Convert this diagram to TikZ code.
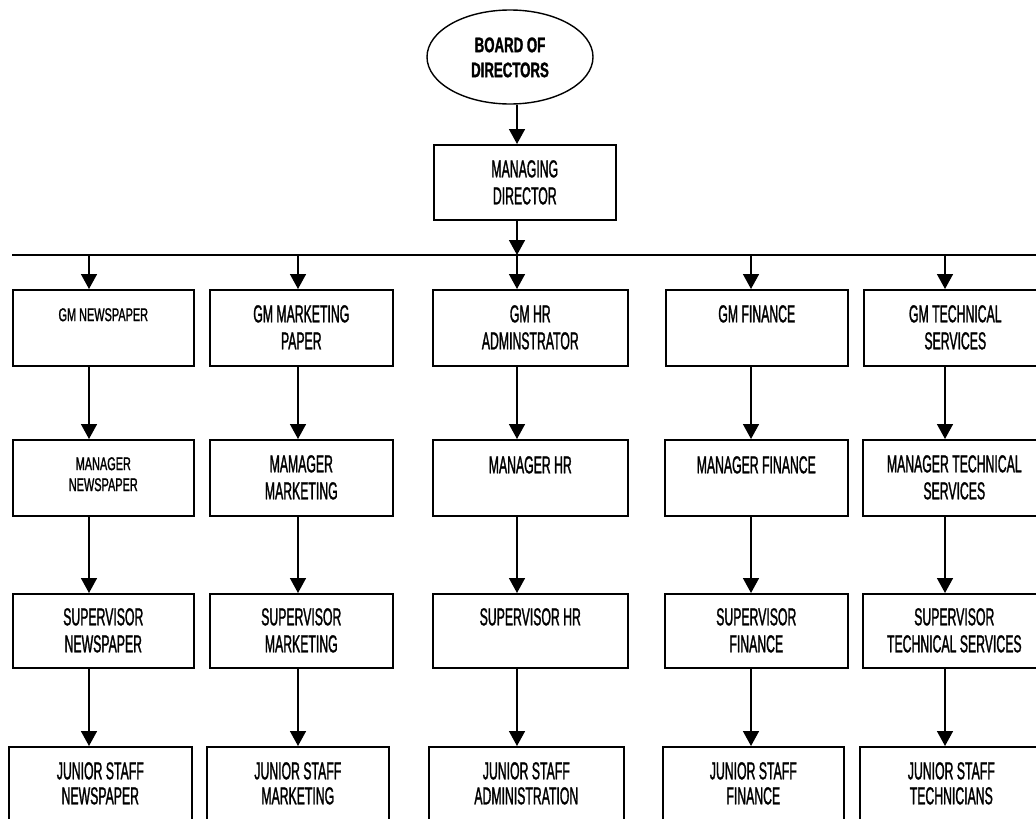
\documentclass[tikz,border=0pt]{standalone}
\usepackage{fontspec}
\setmainfont{Liberation Sans}
\newfontfamily\bigf[FakeStretch=0.5,FakeBold=1.2]{Liberation Sans}
\newfontfamily\smallf[FakeStretch=0.59,FakeBold=1.2]{Liberation Sans}
\newfontfamily\boldf[FakeStretch=0.63,FakeBold=1.5]{Liberation Sans}
\usetikzlibrary{arrows.meta,shapes.geometric}
\tikzset{
  box/.style={draw, line width=1.6pt, rectangle, inner sep=0pt, anchor=north west},
  bt/.style={anchor=north, inner sep=0pt, align=center, font=\bigf\fontsize{24.5}{27}\selectfont},
  st/.style={anchor=north, inner sep=0pt, align=center, font=\smallf\fontsize{18.5}{21}\selectfont},
  arr/.style={line width=1.6pt, -{Triangle[width=16pt,length=15pt]}},
  ln/.style={line width=1.6pt}
}
\begin{document}
\begin{tikzpicture}[x=1pt,y=-1pt]
\useasboundingbox (0,0) rectangle (1036,819);
% column axes
\coordinate (c1) at (89,0);
\coordinate (c2) at (298,0);
\coordinate (c3) at (517,0);
\coordinate (c4) at (751,0);
\coordinate (c5) at (945,0);
% top
\node[draw, ellipse, line width=1.4pt, minimum width=166, minimum height=94, inner sep=0pt] (bod) at (510,57) {};
\node[anchor=north, inner sep=0pt, align=center, font=\boldf\bfseries\fontsize{21}{25}\selectfont] (tbod) at ([yshift=-28pt]bod.north) {BOARD OF\\DIRECTORS};
\node[box, minimum width=182, minimum height=75] (md) at (433,144) {};
\node[bt] (tmd) at ([yshift=-16pt]md.north) {MANAGING\\DIRECTOR};
\coordinate (hl) at (12,255);
\coordinate (hr) at (1040,255);
\draw[arr] (bod.south -| c3) -- (md.north -| c3);
\draw[arr] (md.south -| c3) -- (hl -| c3);
\draw[ln] (hl) -- (hr);
% row 1
\node[box, minimum width=181, minimum height=76] (a1) at (12,289) {};
\node[box, minimum width=183, minimum height=76] (a2) at (209,289) {};
\node[box, minimum width=195, minimum height=76] (a3) at (432,289) {};
\node[box, minimum width=182, minimum height=76] (a4) at (665,289) {};
\node[box, minimum width=183, minimum height=76] (a5) at (863,289) {};
\node[st] (ta1) at ([yshift=-19pt]a1.north) {GM NEWSPAPER};
\node[bt] (ta2) at ([yshift=-16pt]a2.north) {GM MARKETING\\PAPER};
\node[bt] (ta3) at ([yshift=-16pt]a3.north) {GM HR\\ADMINSTRATOR};
\node[bt] (ta4) at ([yshift=-16pt]a4.north) {GM FINANCE};
\node[bt] (ta5) at ([yshift=-16pt]a5.north) {GM TECHNICAL\\SERVICES};
% row 2
\node[box, minimum width=181, minimum height=76] (b1) at (12,439) {};
\node[box, minimum width=183, minimum height=76] (b2) at (209,439) {};
\node[box, minimum width=195, minimum height=76] (b3) at (432,439) {};
\node[box, minimum width=183, minimum height=76] (b4) at (664,439) {};
\node[box, minimum width=183, minimum height=76] (b5) at (862,439) {};
\node[st] (tb1) at ([yshift=-18pt]b1.north) {MANAGER\\NEWSPAPER};
\node[bt] (tb2) at ([yshift=-16pt]b2.north) {MAMAGER\\MARKETING};
\node[bt] (tb3) at ([yshift=-17pt]b3.north) {MANAGER HR};
\node[bt] (tb4) at ([yshift=-17pt]b4.north) {MANAGER FINANCE};
\node[bt] (tb5) at ([yshift=-16pt]b5.north) {MANAGER TECHNICAL\\SERVICES};
% row 3
\node[box, minimum width=181, minimum height=74] (s1) at (12,593) {};
\node[box, minimum width=183, minimum height=74] (s2) at (209,593) {};
\node[box, minimum width=195, minimum height=74] (s3) at (432,593) {};
\node[box, minimum width=183, minimum height=74] (s4) at (664,593) {};
\node[box, minimum width=183, minimum height=74] (s5) at (862,593) {};
\node[bt] (ts1) at ([yshift=-15pt]s1.north) {SUPERVISOR\\NEWSPAPER};
\node[bt] (ts2) at ([yshift=-15pt]s2.north) {SUPERVISOR\\MARKETING};
\node[bt] (ts3) at ([yshift=-15pt]s3.north) {SUPERVISOR HR};
\node[bt] (ts4) at ([yshift=-15pt]s4.north) {SUPERVISOR\\FINANCE};
\node[bt] (ts5) at ([yshift=-15pt]s5.north) {SUPERVISOR\\TECHNICAL SERVICES};
% row 4
\node[box, minimum width=183, minimum height=84] (j1) at (8,746) {};
\node[box, minimum width=182, minimum height=84] (j2) at (206,746) {};
\node[box, minimum width=195, minimum height=84] (j3) at (428,746) {};
\node[box, minimum width=181, minimum height=84] (j4) at (662,746) {};
\node[box, minimum width=183, minimum height=84] (j5) at (859,746) {};
\node[bt, font=\bigf\fontsize{24.5}{25}\selectfont] (tj1) at ([yshift=-16pt]j1.north) {JUNIOR STAFF\\NEWSPAPER};
\node[bt, font=\bigf\fontsize{24.5}{25}\selectfont] (tj2) at ([yshift=-16pt]j2.north) {JUNIOR STAFF\\MARKETING};
\node[bt, font=\bigf\fontsize{24.5}{25}\selectfont] (tj3) at ([yshift=-16pt]j3.north) {JUNIOR STAFF\\ADMINISTRATION};
\node[bt, font=\bigf\fontsize{24.5}{25}\selectfont] (tj4) at ([yshift=-16pt]j4.north) {JUNIOR STAFF\\FINANCE};
\node[bt, font=\bigf\fontsize{24.5}{25}\selectfont] (tj5) at ([yshift=-16pt]j5.north) {JUNIOR STAFF\\TECHNICIANS};
% arrows
\foreach \i in {1,...,5} {
  \draw[arr] (hl -| c\i) -- (a\i.north -| c\i);
  \draw[arr] (a\i.south -| c\i) -- (b\i.north -| c\i);
  \draw[arr] (b\i.south -| c\i) -- (s\i.north -| c\i);
  \draw[arr] (s\i.south -| c\i) -- (j\i.north -| c\i);
}
\end{tikzpicture}
\end{document}
